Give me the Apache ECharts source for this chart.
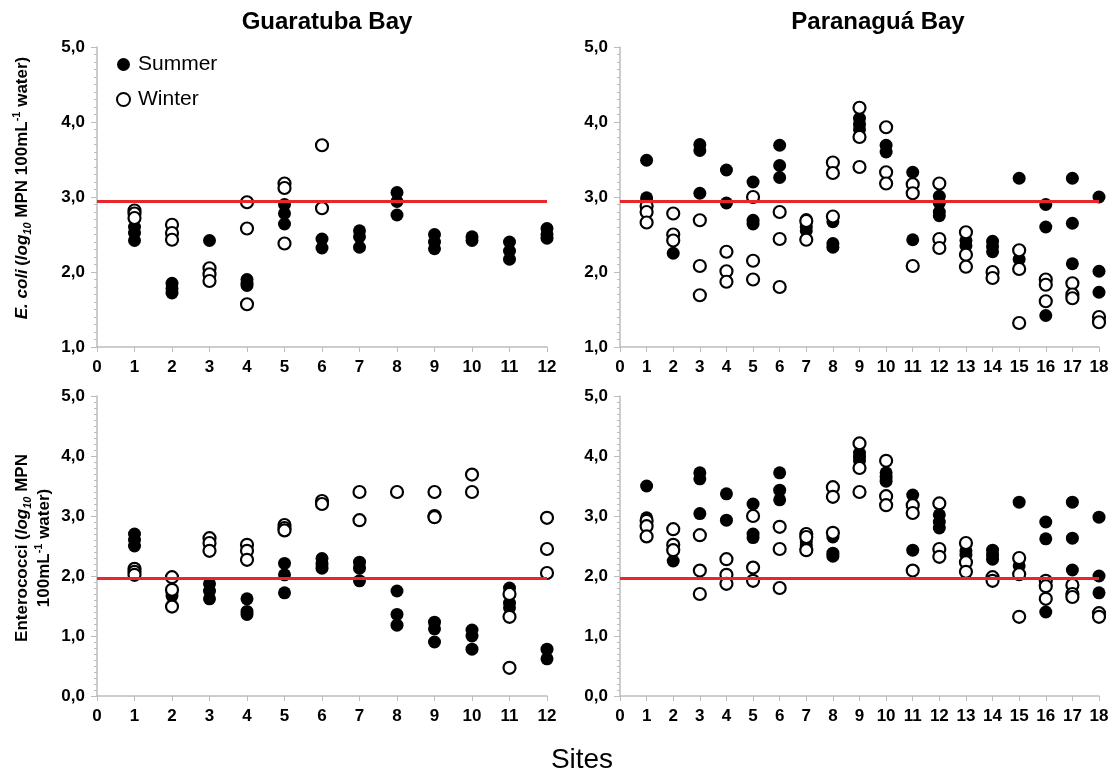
<!DOCTYPE html>
<html>
<head>
<meta charset="utf-8">
<script src="https://cdn.jsdelivr.net/npm/echarts@6/dist/echarts.min.js"></script>
<style>html,body{margin:0;padding:0;background:#fff}#c{width:1117px;height:775px}</style>
</head>
<body>
<div id="c"></div>
<script>
// ---- data ----
const sitesGua = [1,2,3,4,5,6,7,8,9,10,11,12];
const sitesPar = [1,2,3,4,5,6,7,8,9,10,11,12,13,14,15,16,17,18];

// E. coli (log10 MPN 100 mL-1) – Guaratuba Bay
const ecoliGuaSummer = [[2.6,2.52,2.42],[1.85,1.78,1.72],[2.42],[1.9,1.85,1.82],[2.9,2.78,2.64],[2.44,2.32],[2.55,2.47,2.33],[3.06,2.94,2.76],[2.5,2.4,2.31],[2.47,2.42],[2.4,2.28,2.17],[2.58,2.5,2.45]];
const ecoliGuaWinter = [[2.82,2.78,2.72],[2.63,2.52,2.43],[2.05,1.97,1.88],[2.93,2.58,1.57],[3.18,3.12,2.38],[3.69,2.85],[],[],[],[],[],[]];
// E. coli – Paranaguá Bay
const ecoliParSummer = [[3.49,2.99,2.95],[2.25],[3.7,3.62,3.05],[3.36,2.92],[3.2,2.69,2.64],[3.69,3.42,3.26],[2.7,2.6,2.55],[2.67,2.38,2.33],[4.05,3.97,3.9],[3.69,3.6],[3.33,2.43],[3.01,2.92,2.8,2.75],[2.42,2.35],[2.41,2.34,2.27],[3.25,2.17],[2.9,2.6,1.42],[3.25,2.65,2.11],[3.0,2.01,1.73]];
const ecoliParWinter = [[2.88,2.8,2.66],[2.78,2.5,2.42],[2.69,2.08,1.69],[2.27,2.01,1.87],[3.0,2.15,1.9],[2.8,2.44,1.8],[2.68,2.43],[3.46,3.32,2.74],[4.19,3.8,3.4],[3.93,3.33,3.18],[3.17,3.05,2.08],[3.18,2.44,2.32],[2.53,2.23,2.07],[2.0,1.92],[2.29,2.04,1.32],[1.9,1.83,1.61],[1.85,1.7,1.65],[1.4,1.33]];
// Enterococci – Guaratuba Bay
const entGuaSummer = [[2.7,2.6,2.5],[1.72,1.67],[1.87,1.75,1.62],[1.62,1.41,1.36],[2.21,2.02,1.72],[2.29,2.2,2.13],[2.23,2.13,1.92],[1.75,1.36,1.18],[1.23,1.12,0.9],[1.1,1.0,0.78],[1.8,1.55,1.47],[0.78,0.62]];
const entGuaWinter = [[2.12,2.07,2.02],[1.98,1.77,1.49],[2.63,2.55,2.42],[2.52,2.42,2.27],[2.85,2.8,2.76],[3.25,3.2],[3.4,2.93],[3.4],[3.4,3.0,2.98],[3.69,3.4],[1.7,1.32,0.47],[2.97,2.45,2.05]];
// Enterococci – Paranaguá Bay
const entParSummer = [[3.5,2.97,2.9],[2.25],[3.72,3.62,3.04],[3.37,2.93],[3.2,2.7,2.64],[3.72,3.43,3.27],[2.7,2.57,2.5],[2.65,2.38,2.33],[4.05,3.98,3.92],[3.72,3.65,3.58],[3.35,2.43],[3.02,2.9,2.8],[2.42,2.35],[2.43,2.35,2.28],[3.23,2.17],[2.9,2.62,1.4],[3.23,2.63,2.1],[2.98,2.0,1.72]];
const entParWinter = [[2.92,2.83,2.66],[2.78,2.52,2.43],[2.68,2.09,1.7],[2.28,2.02,1.87],[3.0,2.14,1.92],[2.82,2.45,1.8],[2.7,2.65,2.43],[3.48,3.32,2.72],[4.21,3.8,3.4],[3.92,3.33,3.18],[3.18,3.05,2.09],[3.21,2.45,2.32],[2.55,2.23,2.07],[1.98,1.92],[2.3,2.03,1.32],[1.92,1.83,1.62],[1.85,1.7,1.65],[1.38,1.32]];

const ecoliLimit = 2.95;
const entLimit = 1.97;
const panelTitles = ['Guaratuba Bay', 'Paranaguá Bay'];
const seriesNames = ['Summer', 'Winter'];
const xLabel = 'Sites';

// ---- chart ----
const FONT = 'Liberation Sans, Arial, sans-serif';
function toPoints(sites, vals){const out=[];vals.forEach((arr,i)=>arr.forEach(v=>out.push([sites[i],v])));return out;}
const fmtY = v => v.toFixed(1).replace('.', ',');

const grids = [
  {left:97, top:47, width:450, height:300},
  {left:620, top:47, width:479, height:300},
  {left:97, top:396, width:450, height:300},
  {left:620, top:396, width:479, height:300}
];
const axisGray = '#bdbdbd';
function xAx(i, max){return {type:'value', gridIndex:i, min:0, max:max, interval:1,
  axisLine:{show:true, lineStyle:{color:axisGray, width:1.5}},
  axisTick:{show:true, inside:false, length:5, lineStyle:{color:axisGray}},
  splitLine:{show:false},
  axisLabel:{color:'#000', fontFamily:FONT, fontWeight:'bold', fontSize:17, margin:12}};}
function yAx(i, min){return {type:'value', gridIndex:i, min:min, max:5, interval:1,
  axisLine:{show:true, lineStyle:{color:axisGray, width:1.5}},
  axisTick:{show:true, inside:false, length:6, lineStyle:{color:axisGray}},
  minorTick:{show:true, splitNumber:10, length:3, lineStyle:{color:axisGray}},
  splitLine:{show:false},
  axisLabel:{color:'#000', fontFamily:FONT, fontWeight:'bold', fontSize:17, margin:12, formatter:fmtY}};}

const panels = [
  {s:sitesGua, sum:ecoliGuaSummer, win:ecoliGuaWinter, lim:ecoliLimit},
  {s:sitesPar, sum:ecoliParSummer, win:ecoliParWinter, lim:ecoliLimit},
  {s:sitesGua, sum:entGuaSummer, win:entGuaWinter, lim:entLimit},
  {s:sitesPar, sum:entParSummer, win:entParWinter, lim:entLimit}
];
const series = [];
panels.forEach((p,i)=>{
  series.push({type:'line', name:'limit'+i, xAxisIndex:i, yAxisIndex:i, data:[], z:1, silent:true,
    markLine:{silent:true, symbol:['none','none'], label:{show:false}, animation:false,
      lineStyle:{color:'#e8262b', width:3, type:'solid'}, data:[{yAxis:p.lim}]}});
  series.push({type:'scatter', name:seriesNames[0], xAxisIndex:i, yAxisIndex:i, z:3, symbol:'circle', symbolSize:13,
    itemStyle:{color:'#000', opacity:1}, data:toPoints(p.s, p.sum)});
  series.push({type:'scatter', name:seriesNames[1], xAxisIndex:i, yAxisIndex:i, z:4, symbol:'circle', symbolSize:12,
    itemStyle:{color:'#fff', borderColor:'#000', borderWidth:2.2, opacity:1}, data:toPoints(p.s, p.win)});
});

const rich = {
  b:{fontFamily:FONT, fontWeight:'bold', fontSize:17, color:'#000', lineHeight:22},
  bi:{fontFamily:FONT, fontWeight:'bold', fontStyle:'italic', fontSize:17, color:'#000', lineHeight:22},
  sub:{fontFamily:FONT, fontWeight:'bold', fontStyle:'italic', fontSize:11, color:'#000', verticalAlign:'bottom', lineHeight:22, padding:[8,0,0,0]},
  sup:{fontFamily:FONT, fontWeight:'bold', fontSize:11, color:'#000', verticalAlign:'top', lineHeight:22, padding:[0,0,8,0]}
};

const chart = echarts.init(document.getElementById('c'), null, {renderer:'canvas'});
chart.setOption({
  animation:false,
  backgroundColor:'#fff',
  grid:grids,
  xAxis:[xAx(0,12), xAx(1,18), xAx(2,12), xAx(3,18)],
  yAxis:[yAx(0,1), yAx(1,1), yAx(2,0), yAx(3,0)],
  legend:{data:seriesNames, orient:'vertical', left:116, top:54, itemWidth:13, itemHeight:13, itemGap:14, padding:0,
    textStyle:{fontFamily:FONT, fontSize:21, color:'#000', padding:[0,0,0,3]}, selectedMode:false},
  series:series,
  graphic:[
    {type:'text', x:327, y:22, style:{text:panelTitles[0], fontFamily:FONT, fontWeight:'bold', fontSize:24, fill:'#000', align:'center', verticalAlign:'middle'}},
    {type:'text', x:878, y:22, style:{text:panelTitles[1], fontFamily:FONT, fontWeight:'bold', fontSize:24, fill:'#000', align:'center', verticalAlign:'middle'}},
    {type:'text', x:582, y:760, style:{text:xLabel, fontFamily:FONT, fontSize:28, fill:'#000', align:'center', verticalAlign:'middle'}},
    {type:'text', x:22, y:188, rotation:Math.PI/2, style:{
      text:'{bi|E. coli} {b|(}{bi|log}{sub|10}{b| MPN 100mL}{sup|-1}{b| water)}', rich:rich, align:'center', verticalAlign:'middle'}},
    {type:'text', x:33, y:548, rotation:Math.PI/2, style:{
      text:'{b|Enterococci (}{bi|log}{sub|10}{b| MPN}\n{b|100mL}{sup|-1}{b| water)}', rich:rich, align:'center', verticalAlign:'middle'}}
  ]
});
</script>
</body>
</html>
